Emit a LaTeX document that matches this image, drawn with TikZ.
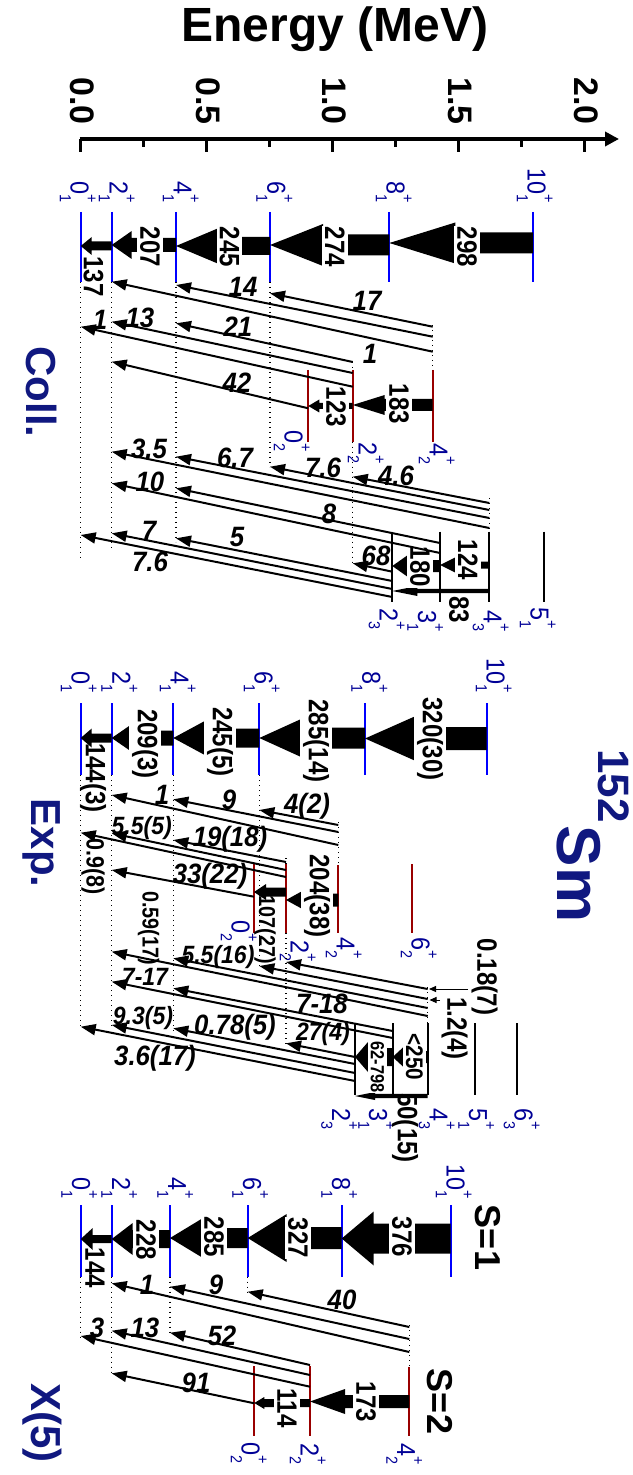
\documentclass[tikz,border=0pt]{standalone}
\usepackage{fontspec}
\setmainfont{Liberation Sans}
\usetikzlibrary{arrows.meta}
\definecolor{lvblue}{RGB}{0,0,255}
\definecolor{lvred}{RGB}{153,0,0}
\definecolor{labblue}{RGB}{0,0,150}
\definecolor{ttlblue}{RGB}{16,24,128}
\tikzset{
  lvA/.style={draw=lvblue,line width=1pt},
  lvB/.style={draw=lvred,line width=1pt},
  lvC/.style={draw=black,line width=1pt},
  ext/.style={line width=0.7pt,dash pattern=on 0.7pt off 1.8pt},
  tr/.style={line width=1pt,-{Triangle[length=7.5pt,width=5.5pt]}},
  ptr/.style={line width=0.5pt,-{Triangle[length=3.5pt,width=3pt]}},
  trlab/.style={font=\fontsize{14}{14}\selectfont\bfseries\itshape,inner sep=0pt,xscale=0.92},
  trs/.style={trlab,font=\fontsize{12.5}{12.5}\selectfont\bfseries\itshape},
  blab/.style={rotate=-90,xscale=0.86,font=\fontsize{14}{14}\selectfont\bfseries,inner xsep=0.5pt,inner ysep=1.5pt},
  gap/.style={blab,fill=white},
  levlab/.style={rotate=-90,xscale=0.9,text=labblue,inner sep=0pt,font=\fontsize{13}{13}\selectfont},
  ttl/.style={rotate=-90,text=ttlblue,font=\fontsize{21}{21}\selectfont\bfseries},
  slab/.style={rotate=-90,font=\fontsize{18}{18}\selectfont\bfseries},
}
% spin label J^+_n
\newcommand\Jn[2]{#1\rlap{\raisebox{0.6em}{\fontsize{8}{8}\selectfont+}}\raisebox{-0.42em}{\fontsize{8}{8}\selectfont #2}}
% level line, dotted extension, band arrow
\newcommand\lev[4][lvA]{\draw[#1] (#2,#3) -- (#2,#4);}
\newcommand\dext[3]{\draw[ext] (#1,#2) -- (#1,#3);}
\newcommand\band[6]{\fill (#1,#3) -- (#1+#6,#3-#5) -- (#1+#6,#3-#4) -- (#2,#3-#4) -- (#2,#3+#4) -- (#1+#6,#3+#4) -- (#1+#6,#3+#5) -- cycle;}
\newcommand\labT[5]{\node[levlab,anchor=base east] (#1) at (#2-9.3,#3) {\Jn{#4}{#5}};}
\newcommand\labB[5]{\node[levlab,anchor=base west] (#1) at (#2-9.3,#3) {\Jn{#4}{#5}};}
\begin{document}
\begin{tikzpicture}[x=0.5pt,y=-0.5pt]
  \useasboundingbox (0,0) rectangle (632,1475);

  % energy axis
  \node[font=\fontsize{24}{24}\selectfont\bfseries,anchor=base] (etitle) at (335,42) {Energy (MeV)};
  \draw[line width=2pt,-{Triangle[length=7pt,width=7pt]}] (79.7,139) -- (619,139);
  \foreach \e/\t/\n in {0/0.0/0,0.5/0.5/1,1/1.0/2,1.5/1.5/3,2/2.0/4} {
    \draw[line width=1.5pt] (80.7+252*\e,139) -- (80.7+252*\e,152);
    \node[rotate=-90,anchor=east,inner sep=0pt,font=\fontsize{17}{17}\selectfont\bfseries] (tick\n) at (82+252*\e,125) {\t};
  }
  \foreach \e in {0.25,0.75,1.25,1.75}
    \draw[line width=1.5pt] (80.7+252*\e,139) -- (80.7+252*\e,147);

  % ---------------- Coll. ----------------
  \node[ttl] (tColl) at (42,392) {Coll.};
  \lev{80.7}{212}{282} \lev{111.7}{212}{282} \lev{176}{212}{282}
  \lev{270}{212}{282} \lev{389.3}{212}{282} \lev{533}{212}{282}
  \labT{c01}{80}{203}{0}{1} \labT{c21}{119}{203}{2}{1} \labT{c41}{183}{203}{4}{1}
  \labT{c61}{276.7}{203}{6}{1} \labT{c81}{396}{203}{8}{1} \labT{c101}{537}{203}{10}{1}
  \dext{80.7}{282}{558} \dext{111.7}{282}{548} \dext{176}{282}{542} \dext{270}{282}{467}
  \band{80.7}{111.7}{246}{4.5}{9}{11}
  \band{111.7}{176}{245}{7}{14}{20}
  \band{176}{270}{246}{9}{18.5}{44}
  \band{270}{389.3}{245}{10.5}{21}{53}
  \band{389.3}{533}{243}{10.5}{20.5}{66}
  \node[blab] (gc137) at (93.5,276.5) {137};
  \node[gap] (gc207) at (150,247) {207};
  \node[gap] (gc245) at (229.5,247) {245};
  \node[gap] (gc274) at (335,247) {274};
  \node[gap] (gc298) at (467,247) {298};
  % beta band
  \lev[lvB]{308.3}{370}{441.7} \lev[lvB]{352.7}{370}{441.7} \lev[lvB]{432.7}{370}{441.7}
  \labB{c02}{294}{430}{0}{2} \labB{c22}{368}{442}{2}{2} \labB{c42}{439}{443}{4}{2}
  \dext{352.7}{362}{370} \dext{352.7}{441.7}{563} \dext{432.7}{325}{370}
  \band{352.7}{432.7}{405}{6}{10}{32}
  \band{308.3}{352.7}{406}{3}{6.5}{11}
  \node[gap] (gc183) at (399,404) {183};
  \node[gap] (gc123) at (336,407) {123};
  % gamma band
  \lev[lvC]{392.3}{531.7}{601.7} \lev[lvC]{440}{531.7}{601.7}
  \lev[lvC]{489.3}{531.7}{601.7} \lev[lvC]{544.3}{531.7}{601.7}
  \labB{c23}{389}{608}{2}{3} \labB{c31}{427.5}{610}{3}{1}
  \labB{c43}{493}{610}{4}{3} \labB{c51}{540}{607}{5}{1}
  \dext{489.3}{498}{531.7}
  \band{440}{489.3}{565}{3.5}{8}{16}
  \band{392.3}{440}{566}{6}{12}{17}
  \band{392.3}{489.3}{591}{2.2}{5}{25}
  \node[gap] (gc124) at (468,560) {124};
  \node[gap] (gc180) at (420,567) {180};
  \node[blab] (gc83) at (459,610) {83};
  % interband
  \draw[tr] (432.7,326.7) -- (270,293.3);
  \draw[tr] (432.7,336.7) -- (176,285);
  \draw[tr] (432.7,351.7) -- (111.7,281.7);
  \draw[tr] (352.7,362) -- (176,323.3);
  \draw[tr] (352.7,373) -- (111.7,321.7);
  \draw[tr] (352.7,386.7) -- (80.7,326.7);
  \draw[tr] (308.3,408.3) -- (111.7,361.7);
  \draw[tr] (489.3,503) -- (352.7,476.7);
  \draw[tr] (489.3,510) -- (270,466.7);
  \draw[tr] (489.3,518) -- (176,456.7);
  \draw[tr] (489.3,528) -- (111.7,451.7);
  \draw[tr] (440,543) -- (176,488.3);
  \draw[tr] (440,553) -- (111.7,483.3);
  \draw[tr] (392.3,571.7) -- (352.7,563.3);
  \draw[tr] (392.3,581) -- (176,538.3);
  \draw[tr] (392.3,589) -- (111.7,533.3);
  \draw[tr] (392.3,597) -- (80.7,535);
  \node[trlab] (ic17) at (367,301) {17};
  \node[trlab] (ic14) at (243,287) {14};
  \node[trlab] (ic1a) at (370,354) {1};
  \node[trlab] (ic21) at (238,327) {21};
  \node[trlab] (ic13) at (140,318) {13};
  \node[trlab] (ic1b) at (100,320) {1};
  \node[trlab] (ic42) at (237,383) {42};
  \node[trlab] (ic46) at (396,476) {4.6};
  \node[trlab] (ic76a) at (323,468) {7.6};
  \node[trlab] (ic67) at (235,458) {6.7};
  \node[trlab] (ic35) at (149,449) {3.5};
  \node[trlab] (ic8) at (329,514) {8};
  \node[trlab] (ic10) at (150,482) {10};
  \node[trlab] (ic68) at (376,556) {68};
  \node[trlab] (ic5) at (237,537) {5};
  \node[trlab] (ic7) at (149,531) {7};
  \node[trlab] (ic76b) at (150,562) {7.6};

  % ---------------- Exp. ----------------
  \node[ttl] (tExp) at (42,843) {Exp.};
  \node[rotate=-90,text=ttlblue,font=\fontsize{22}{22}\selectfont\bfseries] (mass) at (614,786) {152};
  \node[rotate=-90,text=ttlblue,font=\fontsize{31}{31}\selectfont\bfseries] (elem) at (578.5,874) {Sm};
  \lev{80.7}{703.3}{775} \lev{111.7}{703.3}{775} \lev{173.3}{703.3}{775}
  \lev{259.3}{703.3}{775} \lev{365}{703.3}{775} \lev{486.7}{703.3}{775}
  \labT{e01}{81}{693}{0}{1} \labT{e21}{121.7}{693}{2}{1} \labT{e41}{180}{693}{4}{1}
  \labT{e61}{264}{693}{6}{1} \labT{e81}{371.7}{693}{8}{1} \labT{e101}{496}{693}{10}{1}
  \dext{80.7}{775}{1027} \dext{111.7}{775}{1026} \dext{173.3}{775}{1033} \dext{259.3}{775}{968}
  \band{80.7}{111.7}{738}{4.5}{9.5}{11}
  \band{111.7}{173.3}{738}{7.5}{14.5}{21}
  \band{173.3}{259.3}{738}{9.5}{20}{37}
  \band{259.3}{365}{738}{10.5}{20}{44}
  \band{365}{486.7}{738.5}{11.5}{23.5}{53}
  \node[blab] (ge144) at (93,778) {144(3)};
  \node[gap] (ge209) at (145,744) {209(3)};
  \node[gap] (ge245) at (220,742) {245(5)};
  \node[gap] (ge285) at (316,741) {285(14)};
  \node[gap] (ge320) at (430,739) {320(30)};
  % beta band
  \lev[lvB]{254}{864}{933} \lev[lvB]{286}{864}{933} \lev[lvB]{338.3}{865}{933} \lev[lvB]{411.7}{864}{933}
  \labB{e02}{241}{920}{0}{2} \labB{e22}{300}{940}{2}{2} \labB{e42}{346}{937}{4}{2} \labB{e62}{421}{937}{6}{2}
  \dext{286}{858}{864} \dext{286}{933}{1045} \dext{338.3}{822}{865}
  \band{286}{338.3}{900}{6.5}{11}{20}
  \band{254}{286}{892}{4.5}{8}{12}
  \node[gap] (ge204) at (317,896) {204(38)};
  \node[blab,font=\fontsize{11.5}{11.5}\selectfont\bfseries] (ge107) at (265,930) {107(27)};
  % gamma band
  \lev[lvC]{355}{1023}{1095} \lev[lvC]{392.7}{1023}{1095} \lev[lvC]{427.7}{1023}{1095}
  \lev[lvC]{475}{1023}{1095} \lev[lvC]{516.7}{1023}{1095}
  \labB{e23}{341.5}{1108}{2}{3} \labB{e31}{378.5}{1108}{3}{1} \labB{e43}{439}{1108}{4}{3}
  \labB{e51}{478.5}{1108}{5}{1} \labB{e63}{524}{1108}{6}{3}
  \dext{427.7}{987}{1023}
  \band{392.7}{427.7}{1057}{6}{13}{14}
  \band{355}{392.7}{1057}{9}{15}{13}
  \band{355}{427.7}{1096}{2.2}{4}{20}
  \node[gap,font=\fontsize{12}{12}\selectfont\bfseries] (ge250) at (414.5,1057) {<250};
  \node[gap,font=\fontsize{9.5}{9.5}\selectfont\bfseries] (ge62) at (377.5,1067) {62-798};
  \node[blab] (ge50) at (405,1128) {50(15)};
  % interband
  \draw[tr] (338.3,825) -- (259.3,810);
  \draw[tr] (338.3,832) -- (173.3,799.3);
  \draw[tr] (338.3,845) -- (111.7,795);
  \draw[tr] (286,862) -- (173.3,840);
  \draw[tr] (286,870) -- (111.7,833.3);
  \draw[tr] (286,877) -- (80.7,832.7);
  \draw[tr] (254,896.7) -- (111.7,870);
  \draw[tr] (427.7,989) -- (286,962);
  \draw[tr] (427.7,999) -- (259.3,966);
  \draw[tr] (427.7,1008) -- (173.3,958.3);
  \draw[tr] (427.7,1016) -- (111.7,951.7);
  \draw[tr] (392.7,1031) -- (173.3,988.3);
  \draw[tr] (392.7,1038) -- (111.7,981.7);
  \draw[tr] (355,1057) -- (286,1043.3);
  \draw[tr] (355,1064) -- (173.3,1028.3);
  \draw[tr] (355,1073) -- (111.7,1025);
  \draw[tr] (355,1081) -- (80.7,1026.7);
  \draw[ptr] (468,989) -- (429,989);
  \draw[ptr] (440,1000) -- (429.5,1000);
  \node[trlab] (ie42) at (307,806) {4(2)};
  \node[trlab] (ie9) at (229,800) {9};
  \node[trlab] (ie1) at (162,795) {1};
  \node[trlab] (ie19) at (230,839) {19(18)};
  \node[trs] (ie55a) at (141.7,828.3) {5.5(5)};
  \node[blab,font=\fontsize{12.5}{12.5}\selectfont\bfseries] (ie09) at (93,867) {0.9(8)};
  \node[trlab] (ie33) at (210,876) {33(22)};
  \node[trs] (ie55b) at (218,957.5) {5.5(16)};
  \node[blab,font=\fontsize{11.5}{11.5}\selectfont\bfseries] (ie059) at (148.5,928) {0.59(17)};
  \node[blab] (ie018) at (484.5,977) {0.18(7)};
  \node[blab] (ie12) at (454.5,1028.5) {1.2(4)};
  \node[trlab] (ie718) at (322,1003.5) {7-18};
  \node[trs] (ie717) at (145,977) {7-17};
  \node[trs] (ie27) at (323,1034) {27(4)};
  \node[trlab] (ie078) at (235,1027) {0.78(5)};
  \node[trs] (ie93) at (143,1018) {9.3(5)};
  \node[trlab] (ie36) at (155,1058) {3.6(17)};

  % ---------------- X(5) ----------------
  \node[ttl] (tX5) at (42,1423) {X(5)};
  \lev{80.7}{1205}{1276.7} \lev{111.7}{1205}{1276.7} \lev{170}{1205}{1276.7}
  \lev{247.7}{1205}{1276.7} \lev{341.7}{1205}{1276.7} \lev{450.7}{1205}{1276.7}
  \labT{x01}{81.5}{1199}{0}{1} \labT{x21}{121.5}{1199}{2}{1} \labT{x41}{177.5}{1199}{4}{1}
  \labT{x61}{252.5}{1199}{6}{1} \labT{x81}{341.5}{1199}{8}{1} \labT{x101}{456}{1199}{10}{1}
  \dext{80.7}{1276.7}{1337} \dext{111.7}{1276.7}{1374} \dext{170}{1276.7}{1334} \dext{247.7}{1276.7}{1292}
  \band{80.7}{111.7}{1239}{4}{11}{12}
  \band{111.7}{170}{1239}{9}{16}{21}
  \band{170}{247.7}{1238}{10}{20}{33}
  \band{247.7}{341.7}{1238}{11}{24}{39}
  \band{341.7}{450.7}{1238.5}{15}{27}{32}
  \node[blab] (gx144) at (95,1268) {144};
  \node[gap] (gx228) at (146,1240) {228};
  \node[gap] (gx285) at (214,1237) {285};
  \node[gap] (gx327) at (298,1238) {327};
  \node[gap] (gx376) at (402,1237) {376};
  \node[slab] (s1) at (487.5,1237.5) {S=1};
  % s = 2 band
  \lev[lvB]{254.3}{1366}{1436} \lev[lvB]{310}{1366}{1436} \lev[lvB]{409.3}{1366.7}{1436}
  \labB{x02}{251}{1442}{0}{2} \labB{x22}{310}{1443}{2}{2} \labB{x42}{406.5}{1443}{4}{2}
  \dext{409.3}{1325}{1366.7}
  \band{310}{409.3}{1401.5}{6.5}{12.5}{35}
  \band{254.3}{310}{1403}{4}{6}{10}
  \node[gap] (gx173) at (366,1402) {173};
  \node[gap] (gx114) at (287,1408) {114};
  \node[slab] (s2) at (440,1401.5) {S=2};
  % interband
  \draw[tr] (409.3,1327) -- (247.7,1291.7);
  \draw[tr] (409.3,1339) -- (170,1286.7);
  \draw[tr] (409.3,1352) -- (111.7,1283.3);
  \draw[tr] (310,1365) -- (170,1332.7);
  \draw[tr] (310,1375) -- (111.7,1330.7);
  \draw[tr] (310,1386.7) -- (80.7,1336);
  \draw[tr] (254.3,1403.3) -- (111.7,1373.3);
  \node[trlab] (ix40) at (342,1300) {40};
  \node[trlab] (ix9) at (216,1285) {9};
  \node[trlab] (ix1) at (147,1285) {1};
  \node[trlab] (ix52) at (222,1336) {52};
  \node[trlab] (ix13) at (145,1328) {13};
  \node[trlab] (ix3) at (97,1328) {3};
  \node[trlab] (ix91) at (196,1383) {91};
\end{tikzpicture}
\end{document}
